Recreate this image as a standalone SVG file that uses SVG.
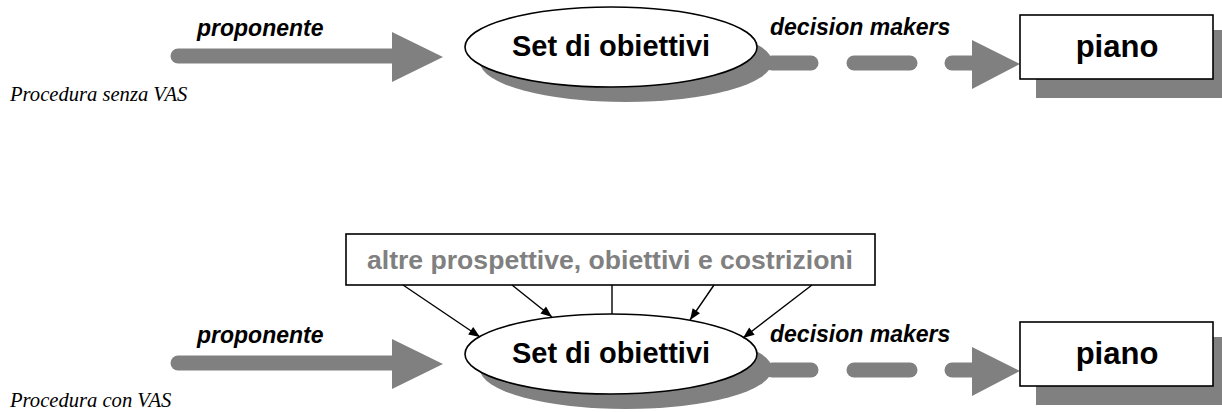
<svg xmlns="http://www.w3.org/2000/svg" width="1222" height="412" viewBox="0 0 1222 412">
<defs>
<style>
.lbl{font-family:"Liberation Sans",Arial,sans-serif;font-weight:bold;font-style:italic;font-size:23px;fill:#000}
.node{font-family:"Liberation Sans",Arial,sans-serif;font-weight:bold;fill:#000}
.cap{font-family:"Liberation Serif","Times New Roman",serif;font-style:italic;font-size:20.6px;fill:#000}
.shaft{stroke:#808080;stroke-width:15;stroke-linecap:round;fill:none}
.head{fill:#808080}
.shadow{fill:#808080}
.outline{fill:#fff;stroke:#000;stroke-width:1.6}
.conn{stroke:#000;stroke-width:1.4;fill:none}
</style>
<marker id="ah" viewBox="0 0 10 8" refX="10" refY="4" markerWidth="12" markerHeight="9" markerUnits="userSpaceOnUse" orient="auto">
<path d="M0,0 L10,4 L0,8 Z" fill="#000"/>
</marker>
</defs>
<rect width="1222" height="412" fill="#fff"/>

<!-- Top row: Procedura senza VAS -->
<g id="top-row">
<text class="cap" x="10" y="101">Procedura senza VAS</text>
<g id="top-proponente-arrow">
<line class="shaft" x1="178" y1="56" x2="396" y2="56"/>
<polygon class="head" points="392,32 443,57 392,82"/>
<text class="lbl" x="197" y="36">proponente</text>
</g>
<g id="top-set">
<ellipse class="shadow" cx="626" cy="62" rx="146" ry="40"/>
<ellipse class="outline" cx="611" cy="47" rx="146" ry="40"/>
<text class="node" x="611" y="56" font-size="29" text-anchor="middle">Set di obiettivi</text>
</g>
<g id="top-decision-arrow">
<line class="shaft" x1="772" y1="63" x2="811" y2="63"/>
<line class="shaft" x1="854" y1="63" x2="910" y2="63"/>
<line class="shaft" x1="952" y1="63" x2="976" y2="63"/>
<polygon class="head" points="972,40 1020,64 972,89"/>
<text class="lbl" x="770" y="35">decision makers</text>
</g>
<g id="top-piano">
<rect class="shadow" x="1036" y="30" width="200" height="68"/>
<rect class="outline" x="1020" y="15" width="193" height="64"/>
<text class="node" x="1117" y="57" font-size="31" text-anchor="middle">piano</text>
</g>
</g>

<!-- Bottom row: Procedura con VAS -->
<g id="bottom-row">
<text class="cap" x="10" y="407">Procedura con VAS</text>
<g id="bottom-proponente-arrow">
<line class="shaft" x1="178" y1="363" x2="396" y2="363"/>
<polygon class="head" points="392,339 443,364 392,389"/>
<text class="lbl" x="197" y="343">proponente</text>
</g>
<g id="bottom-set">
<ellipse class="shadow" cx="626" cy="369" rx="146" ry="40"/>
<ellipse class="outline" cx="611" cy="354" rx="146" ry="40"/>
<text class="node" x="611" y="363" font-size="29" text-anchor="middle">Set di obiettivi</text>
</g>
<g id="bottom-decision-arrow">
<line class="shaft" x1="772" y1="370" x2="811" y2="370"/>
<line class="shaft" x1="854" y1="370" x2="910" y2="370"/>
<line class="shaft" x1="952" y1="370" x2="976" y2="370"/>
<polygon class="head" points="972,347 1020,371 972,396"/>
<text class="lbl" x="770" y="342">decision makers</text>
</g>
<g id="bottom-piano">
<rect class="shadow" x="1036" y="337" width="200" height="68"/>
<rect class="outline" x="1020" y="322" width="193" height="64"/>
<text class="node" x="1117" y="364" font-size="31" text-anchor="middle">piano</text>
</g>
<g id="altre">
<rect class="outline" x="346" y="234" width="529" height="51"/>
<text class="node" x="610" y="269" font-size="26" style="fill:#808080" text-anchor="middle" textLength="486" lengthAdjust="spacingAndGlyphs">altre prospettive, obiettivi e costrizioni</text>
</g>
</g>

<g id="connectors">
<line class="conn" x1="403" y1="285" x2="480" y2="337" marker-end="url(#ah)"/>
<line class="conn" x1="512" y1="285" x2="552" y2="317" marker-end="url(#ah)"/>
<line class="conn" x1="612" y1="285" x2="612" y2="314"/>
<line class="conn" x1="714" y1="285" x2="690" y2="320" marker-end="url(#ah)"/>
<line class="conn" x1="812" y1="285" x2="743" y2="338" marker-end="url(#ah)"/>
</g>
</svg>
